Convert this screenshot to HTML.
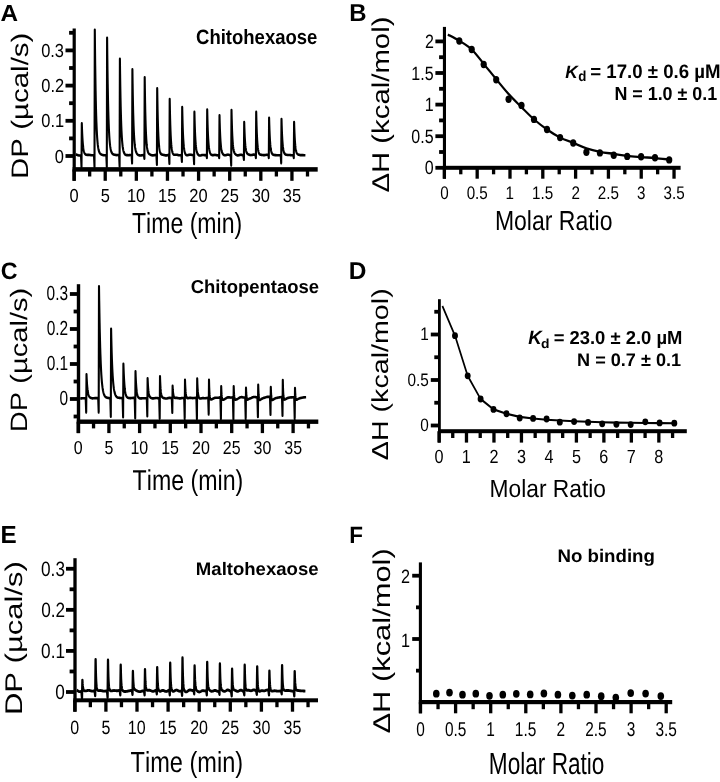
<!DOCTYPE html><html><head><meta charset="utf-8"><style>html,body{margin:0;padding:0;background:#fff;}svg{display:block;will-change:transform;}text{font-kerning:none;}</style></head><body>
<svg width="720" height="782" viewBox="0 0 720 782" font-family="'Liberation Sans', sans-serif" text-rendering="geometricPrecision">
<rect width="720" height="782" fill="#fff"/>
<g fill="#000">
<text transform="translate(0.49,21.00) scale(1.0382,1)" font-size="23.40" font-weight="bold" font-style="normal">A</text>
<text transform="translate(349.20,20.80) scale(0.9804,1)" font-size="24.42" font-weight="bold" font-style="normal">B</text>
<text transform="translate(0.75,278.90) scale(0.9813,1)" font-size="23.69" font-weight="bold" font-style="normal">C</text>
<text transform="translate(348.66,279.20) scale(1.0076,1)" font-size="24.27" font-weight="bold" font-style="normal">D</text>
<text transform="translate(0.48,542.90) scale(0.9753,1)" font-size="24.86" font-weight="bold" font-style="normal">E</text>
<text transform="translate(349.30,542.50) scale(0.9514,1)" font-size="23.62" font-weight="bold" font-style="normal">F</text>
<rect x="72.60" y="28.50" width="3.20" height="152.30"/>
<rect x="72.60" y="167.15" width="245.10" height="4.50"/>
<rect x="65.50" y="154.10" width="8.70" height="3.80"/>
<rect x="65.50" y="118.90" width="8.70" height="3.80"/>
<rect x="65.50" y="83.70" width="8.70" height="3.80"/>
<rect x="65.50" y="48.50" width="8.70" height="3.80"/>
<rect x="69.10" y="136.50" width="5.10" height="3.80"/>
<rect x="69.10" y="101.30" width="5.10" height="3.80"/>
<rect x="69.10" y="66.10" width="5.10" height="3.80"/>
<rect x="69.10" y="30.90" width="5.10" height="3.80"/>
<rect x="72.45" y="169.40" width="3.30" height="11.40"/>
<rect x="103.57" y="169.40" width="3.30" height="11.40"/>
<rect x="134.69" y="169.40" width="3.30" height="11.40"/>
<rect x="165.81" y="169.40" width="3.30" height="11.40"/>
<rect x="196.93" y="169.40" width="3.30" height="11.40"/>
<rect x="228.05" y="169.40" width="3.30" height="11.40"/>
<rect x="259.17" y="169.40" width="3.30" height="11.40"/>
<rect x="290.29" y="169.40" width="3.30" height="11.40"/>
<rect x="88.01" y="169.40" width="3.30" height="7.10"/>
<rect x="119.13" y="169.40" width="3.30" height="7.10"/>
<rect x="150.25" y="169.40" width="3.30" height="7.10"/>
<rect x="181.37" y="169.40" width="3.30" height="7.10"/>
<rect x="212.49" y="169.40" width="3.30" height="7.10"/>
<rect x="243.61" y="169.40" width="3.30" height="7.10"/>
<rect x="274.73" y="169.40" width="3.30" height="7.10"/>
<rect x="305.85" y="169.40" width="3.30" height="7.10"/>
<text transform="translate(54.79,162.52) scale(0.8691,1)" font-size="18.93" font-weight="normal">0</text>
<text transform="translate(41.24,127.32) scale(0.8691,1)" font-size="18.93" font-weight="normal">0.1</text>
<text transform="translate(41.26,92.12) scale(0.8691,1)" font-size="18.93" font-weight="normal">0.2</text>
<text transform="translate(41.16,56.92) scale(0.8691,1)" font-size="18.93" font-weight="normal">0.3</text>
<text transform="translate(69.53,201.72) scale(0.8691,1)" font-size="18.93" font-weight="normal">0</text>
<text transform="translate(100.66,201.72) scale(0.8691,1)" font-size="18.93" font-weight="normal">5</text>
<text transform="translate(126.89,201.72) scale(0.8691,1)" font-size="18.93" font-weight="normal">10</text>
<text transform="translate(158.03,201.72) scale(0.8691,1)" font-size="18.93" font-weight="normal">15</text>
<text transform="translate(189.34,201.72) scale(0.8691,1)" font-size="18.93" font-weight="normal">20</text>
<text transform="translate(220.48,201.72) scale(0.8691,1)" font-size="18.93" font-weight="normal">25</text>
<text transform="translate(251.68,201.72) scale(0.8691,1)" font-size="18.93" font-weight="normal">30</text>
<text transform="translate(282.82,201.72) scale(0.8691,1)" font-size="18.93" font-weight="normal">35</text>
<text transform="translate(131.98,233.30) scale(0.7939,1)" font-size="29.07" font-weight="normal" font-style="normal">Time (min)</text>
<text transform="translate(196.04,43.70) scale(0.8943,1)" font-size="20.70" font-weight="bold" font-style="normal">Chitohexaose</text>
<text transform="translate(28.30,178.92) rotate(-90) scale(1.2364,1)" font-size="23.84" font-weight="normal" font-style="normal">DP (µcal/s)</text>
<path transform="scale(1,1.25)" d="M75.80,123.680 L76.30,123.729 L76.80,123.824 L77.30,123.951 L77.80,124.091 L78.30,124.224 L78.80,124.329 L79.30,124.394 L79.80,124.415 L80.30,124.394 L80.80,124.343 L81.00,124.317 L81.50,133.600 L81.80,98.720 L82.00,103.317 L82.20,107.079 L82.40,110.158 L82.60,112.679 L82.80,114.744 L83.00,116.436 L83.20,117.823 L83.40,118.961 L83.60,119.895 L83.80,120.662 L84.00,121.291 L84.20,121.808 L84.40,122.232 L84.60,122.579 L84.80,122.863 L85.00,123.093 L85.20,123.280 L85.40,123.430 L85.60,123.549 L85.80,123.642 L86.00,123.715 L86.20,123.769 L86.40,123.808 L86.60,123.836 L86.80,123.855 L87.00,123.866 L87.20,123.871 L87.70,123.943 L88.20,123.915 L88.70,123.909 L89.20,123.929 L89.70,123.970 L90.20,124.026 L90.70,124.086 L91.20,124.139 L91.70,124.177 L92.20,124.194 L92.70,124.189 L93.20,124.166 L93.70,124.132 L94.00,124.110 L94.50,133.600 L94.80,23.840 L95.00,39.216 L95.20,52.232 L95.40,63.250 L95.60,72.578 L95.80,80.475 L96.00,87.161 L96.20,92.822 L96.40,97.614 L96.60,101.672 L96.80,105.108 L97.00,108.016 L97.20,110.478 L97.40,112.561 L97.60,114.324 L97.80,115.815 L98.00,117.076 L98.20,118.142 L98.40,119.042 L98.60,119.803 L98.80,120.445 L99.00,120.986 L99.20,121.444 L99.40,121.830 L99.60,122.156 L99.80,122.432 L100.00,122.666 L100.20,122.866 L100.40,123.036 L100.60,123.183 L100.80,123.309 L101.00,123.420 L101.20,123.517 L101.40,123.603 L101.60,123.681 L101.80,123.750 L102.00,123.813 L102.20,123.871 L102.40,123.923 L102.60,123.971 L102.80,124.014 L103.00,124.053 L103.50,124.202 L104.00,124.228 L104.50,124.235 L105.00,124.222 L105.50,124.193 L106.00,124.156 L106.30,124.133 L106.80,133.600 L107.10,30.160 L107.30,44.571 L107.50,56.771 L107.70,67.100 L107.90,75.845 L108.10,83.250 L108.30,89.520 L108.50,94.831 L108.70,99.328 L108.90,103.138 L109.10,106.364 L109.30,109.097 L109.50,111.411 L109.70,113.371 L109.90,115.030 L110.10,116.433 L110.30,117.620 L110.50,118.623 L110.70,119.470 L110.90,120.185 L111.10,120.786 L111.30,121.292 L111.50,121.717 L111.70,122.074 L111.90,122.372 L112.10,122.622 L112.30,122.830 L112.50,123.004 L112.70,123.150 L112.90,123.271 L113.10,123.373 L113.30,123.460 L113.50,123.533 L113.70,123.596 L113.90,123.650 L114.10,123.698 L114.30,123.741 L114.50,123.779 L114.70,123.814 L114.90,123.847 L115.10,123.876 L115.60,124.020 L116.10,124.043 L116.60,124.058 L117.10,124.060 L117.60,124.048 L118.10,124.022 L118.60,123.987 L119.10,123.951 L119.10,123.951 L119.60,133.200 L119.90,46.960 L120.10,59.241 L120.30,69.563 L120.50,78.242 L120.70,85.539 L120.90,91.676 L121.10,96.838 L121.30,101.183 L121.50,104.839 L121.70,107.918 L121.90,110.512 L122.10,112.698 L122.30,114.540 L122.50,116.094 L122.70,117.406 L122.90,118.512 L123.10,119.446 L123.30,120.234 L123.50,120.899 L123.70,121.460 L123.90,121.933 L124.10,122.331 L124.30,122.665 L124.50,122.945 L124.70,123.179 L124.90,123.374 L125.10,123.536 L125.30,123.669 L125.50,123.777 L125.70,123.866 L125.90,123.936 L126.10,123.992 L126.30,124.036 L126.50,124.069 L126.70,124.093 L126.90,124.110 L127.10,124.121 L127.30,124.128 L127.50,124.130 L128.00,124.192 L128.50,124.151 L129.00,124.113 L129.50,124.076 L130.00,124.039 L130.50,124.001 L131.00,123.959 L131.50,123.915 L131.60,123.906 L132.10,130.640 L132.40,55.520 L132.60,66.861 L132.80,76.313 L133.00,84.193 L133.20,90.762 L133.40,96.238 L133.60,100.805 L133.80,104.613 L134.00,107.790 L134.20,110.441 L134.40,112.654 L134.60,114.504 L134.80,116.050 L135.00,117.345 L135.20,118.430 L135.40,119.341 L135.60,120.108 L135.80,120.755 L136.00,121.301 L136.20,121.765 L136.40,122.160 L136.60,122.496 L136.80,122.785 L137.00,123.033 L137.20,123.246 L137.40,123.431 L137.60,123.590 L137.80,123.728 L138.00,123.847 L138.20,123.949 L138.40,124.037 L138.60,124.111 L138.80,124.173 L139.00,124.224 L139.20,124.264 L139.40,124.296 L139.90,124.412 L140.40,124.383 L140.90,124.334 L141.40,124.272 L141.90,124.209 L142.40,124.153 L142.90,124.112 L143.40,124.088 L143.90,124.081 L144.40,126.960 L144.70,61.840 L144.90,73.127 L145.10,82.369 L145.30,89.934 L145.50,96.126 L145.70,101.193 L145.90,105.339 L146.10,108.729 L146.30,111.500 L146.50,113.764 L146.70,115.613 L146.90,117.121 L147.10,118.350 L147.30,119.351 L147.50,120.166 L147.70,120.829 L147.90,121.368 L148.10,121.807 L148.30,122.165 L148.50,122.458 L148.70,122.699 L148.90,122.899 L149.10,123.066 L149.30,123.207 L149.50,123.329 L149.70,123.435 L149.90,123.531 L150.10,123.617 L150.30,123.696 L150.50,123.770 L150.70,123.840 L150.90,123.905 L151.10,123.966 L151.60,124.163 L152.10,124.239 L152.60,124.283 L153.10,124.287 L153.60,124.249 L154.10,124.176 L154.60,124.083 L155.10,123.989 L155.60,123.913 L156.10,123.871 L156.40,123.866 L156.90,131.760 L157.20,70.560 L157.40,80.721 L157.60,88.965 L157.80,95.652 L158.00,101.079 L158.20,105.484 L158.40,109.059 L158.60,111.960 L158.80,114.313 L159.00,116.222 L159.20,117.767 L159.40,119.017 L159.60,120.026 L159.80,120.838 L160.00,121.489 L160.20,122.008 L160.40,122.420 L160.60,122.744 L160.80,122.997 L161.00,123.194 L161.20,123.344 L161.40,123.458 L161.60,123.544 L161.80,123.608 L162.00,123.657 L162.20,123.695 L162.40,123.726 L162.60,123.753 L162.80,123.780 L163.00,123.807 L163.50,123.955 L164.00,124.025 L164.50,124.120 L165.00,124.218 L165.50,124.297 L166.00,124.337 L166.50,124.326 L167.00,124.264 L167.50,124.161 L168.00,124.036 L168.50,123.916 L168.90,123.840 L169.40,130.960 L169.70,79.280 L169.90,87.736 L170.10,94.598 L170.30,100.169 L170.50,104.695 L170.70,108.375 L170.90,111.369 L171.10,113.807 L171.30,115.793 L171.50,117.412 L171.70,118.732 L171.90,119.807 L172.10,120.682 L172.30,121.393 L172.50,121.968 L172.70,122.430 L172.90,122.799 L173.10,123.090 L173.30,123.317 L173.50,123.490 L173.70,123.618 L173.90,123.709 L174.10,123.770 L174.30,123.807 L174.50,123.824 L174.70,123.828 L174.90,123.821 L175.10,123.807 L175.30,123.791 L175.50,123.774 L176.00,123.802 L176.50,123.783 L177.00,123.819 L177.50,123.900 L178.00,124.006 L178.50,124.114 L179.00,124.199 L179.50,124.244 L180.00,124.240 L180.50,124.192 L181.00,124.115 L181.40,124.048 L181.90,129.360 L182.20,85.600 L182.40,92.871 L182.60,98.767 L182.80,103.552 L183.00,107.439 L183.20,110.598 L183.40,113.171 L183.60,115.267 L183.80,116.979 L184.00,118.379 L184.20,119.526 L184.40,120.466 L184.60,121.237 L184.80,121.870 L185.00,122.389 L185.20,122.813 L185.40,123.157 L185.60,123.434 L185.80,123.655 L186.00,123.827 L186.20,123.958 L186.40,124.053 L186.60,124.117 L186.80,124.156 L187.00,124.172 L187.20,124.170 L187.40,124.153 L187.60,124.124 L187.80,124.087 L188.30,124.036 L188.80,123.897 L189.30,123.797 L189.80,123.747 L190.30,123.747 L190.80,123.786 L191.30,123.847 L191.80,123.908 L192.30,123.952 L192.80,123.966 L193.30,123.949 L193.60,123.927 L194.10,131.200 L194.40,89.520 L194.60,96.023 L194.80,101.291 L195.00,105.561 L195.20,109.026 L195.40,111.838 L195.60,114.125 L195.80,115.988 L196.00,117.508 L196.20,118.752 L196.40,119.773 L196.60,120.613 L196.80,121.308 L197.00,121.884 L197.20,122.363 L197.40,122.764 L197.60,123.098 L197.80,123.377 L198.00,123.610 L198.20,123.804 L198.40,123.963 L198.60,124.092 L198.80,124.194 L199.00,124.273 L199.20,124.331 L199.40,124.370 L199.60,124.392 L199.80,124.400 L200.30,124.438 L200.80,124.332 L201.30,124.219 L201.80,124.120 L202.30,124.052 L202.80,124.019 L203.30,124.020 L203.80,124.043 L204.30,124.073 L204.80,124.092 L205.30,124.087 L205.80,124.053 L206.30,123.992 L206.40,123.978 L206.90,126.400 L207.20,87.680 L207.40,94.522 L207.60,100.062 L207.80,104.551 L208.00,108.190 L208.20,111.142 L208.40,113.539 L208.60,115.489 L208.80,117.076 L209.00,118.372 L209.20,119.432 L209.40,120.302 L209.60,121.017 L209.80,121.607 L210.00,122.095 L210.20,122.500 L210.40,122.835 L210.60,123.113 L210.80,123.343 L211.00,123.532 L211.20,123.686 L211.40,123.810 L211.60,123.907 L211.80,123.981 L212.00,124.036 L212.20,124.073 L212.40,124.094 L212.60,124.103 L212.80,124.101 L213.30,124.123 L213.80,124.040 L214.30,123.973 L214.80,123.940 L215.30,123.949 L215.80,123.998 L216.30,124.078 L216.80,124.169 L217.30,124.250 L217.80,124.302 L218.30,124.313 L218.70,124.289 L219.20,126.400 L219.50,92.320 L219.70,98.331 L219.90,103.193 L220.10,107.125 L220.30,110.306 L220.50,112.880 L220.70,114.965 L220.90,116.655 L221.10,118.028 L221.30,119.144 L221.50,120.055 L221.70,120.801 L221.90,121.414 L222.10,121.920 L222.30,122.340 L222.50,122.690 L222.70,122.982 L222.90,123.228 L223.10,123.434 L223.30,123.607 L223.50,123.751 L223.70,123.870 L223.90,123.966 L224.10,124.041 L224.30,124.097 L224.50,124.136 L224.70,124.159 L224.90,124.168 L225.40,124.201 L225.90,124.088 L226.40,123.960 L226.90,123.845 L227.40,123.766 L227.90,123.741 L228.40,123.776 L228.90,123.866 L229.40,123.991 L229.90,124.126 L230.40,124.244 L230.70,124.296 L231.20,132.400 L231.50,88.000 L231.70,94.885 L231.90,100.452 L232.10,104.950 L232.30,108.582 L232.50,111.513 L232.70,113.876 L232.90,115.780 L233.10,117.314 L233.30,118.549 L233.50,119.545 L233.70,120.349 L233.90,121.000 L234.10,121.529 L234.30,121.961 L234.50,122.317 L234.70,122.613 L234.90,122.862 L235.10,123.074 L235.30,123.257 L235.50,123.416 L235.70,123.557 L235.90,123.681 L236.10,123.791 L236.30,123.889 L236.50,123.974 L236.70,124.047 L236.90,124.109 L237.10,124.159 L237.60,124.292 L238.10,124.269 L238.60,124.195 L239.10,124.086 L239.60,123.966 L240.10,123.863 L240.60,123.803 L241.10,123.803 L241.60,123.866 L242.10,123.984 L242.60,124.136 L243.10,124.293 L243.40,124.378 L243.90,127.760 L244.20,97.600 L244.40,102.720 L244.60,106.859 L244.80,110.201 L245.00,112.896 L245.20,115.066 L245.40,116.809 L245.60,118.206 L245.80,119.323 L246.00,120.214 L246.20,120.922 L246.40,121.485 L246.60,121.930 L246.80,122.283 L247.00,122.563 L247.20,122.786 L247.40,122.965 L247.60,123.111 L247.80,123.231 L248.00,123.333 L248.20,123.422 L248.40,123.500 L248.60,123.572 L248.80,123.638 L249.00,123.699 L249.20,123.757 L249.40,123.811 L249.90,123.991 L250.40,124.042 L250.90,124.058 L251.40,124.033 L251.90,123.970 L252.40,123.885 L252.90,123.798 L253.40,123.732 L253.90,123.708 L254.40,123.738 L254.90,123.825 L255.40,123.959 L255.90,126.400 L256.20,89.520 L256.40,96.170 L256.60,101.569 L256.80,105.950 L257.00,109.503 L257.20,112.384 L257.40,114.717 L257.60,116.605 L257.80,118.129 L258.00,119.358 L258.20,120.345 L258.40,121.135 L258.60,121.765 L258.80,122.263 L259.00,122.656 L259.20,122.963 L259.40,123.200 L259.60,123.382 L259.80,123.520 L260.00,123.624 L260.20,123.701 L260.40,123.758 L260.60,123.801 L260.80,123.833 L261.00,123.858 L261.20,123.879 L261.40,123.898 L261.60,123.915 L262.10,124.030 L262.60,124.048 L263.10,124.074 L263.60,124.093 L264.10,124.093 L264.60,124.067 L265.10,124.016 L265.60,123.947 L266.10,123.873 L266.60,123.808 L267.10,123.766 L267.60,123.756 L268.10,123.782 L268.30,123.802 L268.80,126.400 L269.10,94.160 L269.30,99.845 L269.50,104.459 L269.70,108.204 L269.90,111.245 L270.10,113.712 L270.30,115.715 L270.50,117.341 L270.70,118.659 L270.90,119.727 L271.10,120.591 L271.30,121.290 L271.50,121.853 L271.70,122.306 L271.90,122.669 L272.10,122.959 L272.30,123.189 L272.50,123.371 L272.70,123.515 L272.90,123.627 L273.10,123.714 L273.30,123.782 L273.50,123.834 L273.70,123.875 L273.90,123.907 L274.10,123.933 L274.30,123.955 L274.50,123.974 L275.00,124.075 L275.50,124.091 L276.00,124.119 L276.50,124.153 L277.00,124.186 L277.50,124.210 L278.00,124.223 L278.50,124.222 L279.00,124.208 L279.50,124.184 L280.00,124.153 L280.50,124.121 L280.70,124.109 L281.20,130.560 L281.50,95.280 L281.70,100.736 L281.90,105.155 L282.10,108.734 L282.30,111.634 L282.50,113.982 L282.70,115.885 L282.90,117.426 L283.10,118.674 L283.30,119.685 L283.50,120.504 L283.70,121.167 L283.90,121.704 L284.10,122.139 L284.30,122.491 L284.50,122.776 L284.70,123.006 L284.90,123.193 L285.10,123.343 L285.30,123.464 L285.50,123.562 L285.70,123.641 L285.90,123.704 L286.10,123.755 L286.30,123.795 L286.50,123.828 L286.70,123.854 L286.90,123.875 L287.40,123.970 L287.90,123.971 L288.40,123.977 L288.90,123.989 L289.40,124.010 L289.90,124.037 L290.40,124.072 L290.90,124.112 L291.40,124.153 L291.90,124.192 L292.40,124.224 L292.90,124.243 L293.30,124.248 L293.80,126.400 L294.10,97.600 L294.30,102.644 L294.50,106.725 L294.70,110.027 L294.90,112.697 L295.10,114.856 L295.30,116.600 L295.50,118.010 L295.70,119.147 L295.90,120.066 L296.10,120.807 L296.30,121.405 L296.50,121.888 L296.70,122.278 L296.90,122.593 L297.10,122.849 L297.30,123.056 L297.50,123.226 L297.70,123.365 L297.90,123.479 L298.10,123.574 L298.30,123.654 L298.50,123.721 L298.70,123.779 L298.90,123.828 L299.10,123.871 L299.30,123.908 L299.80,124.048 L300.30,124.074 L300.80,124.095 L301.30,124.110 L301.80,124.119 L302.30,124.126 L302.80,124.134 L303.30,124.145 L303.80,124.160 L304.30,124.178 L304.80,124.196 L305.30,124.210 L305.40,124.212" fill="none" stroke="#000" stroke-width="2.1" stroke-linejoin="round"/>
<rect x="442.90" y="26.90" width="3.10" height="151.80"/>
<rect x="442.90" y="165.80" width="237.70" height="4.00"/>
<rect x="435.40" y="165.90" width="9.05" height="3.80"/>
<rect x="435.40" y="134.30" width="9.05" height="3.80"/>
<rect x="435.40" y="102.70" width="9.05" height="3.80"/>
<rect x="435.40" y="71.10" width="9.05" height="3.80"/>
<rect x="435.40" y="39.50" width="9.05" height="3.80"/>
<rect x="439.10" y="150.10" width="5.35" height="3.80"/>
<rect x="439.10" y="118.50" width="5.35" height="3.80"/>
<rect x="439.10" y="86.90" width="5.35" height="3.80"/>
<rect x="439.10" y="55.30" width="5.35" height="3.80"/>
<rect x="442.72" y="167.80" width="3.30" height="10.90"/>
<rect x="475.53" y="167.80" width="3.30" height="10.90"/>
<rect x="508.34" y="167.80" width="3.30" height="10.90"/>
<rect x="541.15" y="167.80" width="3.30" height="10.90"/>
<rect x="573.96" y="167.80" width="3.30" height="10.90"/>
<rect x="606.77" y="167.80" width="3.30" height="10.90"/>
<rect x="639.58" y="167.80" width="3.30" height="10.90"/>
<rect x="672.39" y="167.80" width="3.30" height="10.90"/>
<rect x="459.12" y="167.80" width="3.30" height="6.50"/>
<rect x="491.94" y="167.80" width="3.30" height="6.50"/>
<rect x="524.75" y="167.80" width="3.30" height="6.50"/>
<rect x="557.56" y="167.80" width="3.30" height="6.50"/>
<rect x="590.37" y="167.80" width="3.30" height="6.50"/>
<rect x="623.18" y="167.80" width="3.30" height="6.50"/>
<rect x="655.99" y="167.80" width="3.30" height="6.50"/>
<text transform="translate(424.70,174.41) scale(0.8351,1)" font-size="19.21" font-weight="normal">0</text>
<text transform="translate(411.37,142.81) scale(0.8351,1)" font-size="19.21" font-weight="normal">0.5</text>
<text transform="translate(424.86,111.21) scale(0.8351,1)" font-size="19.21" font-weight="normal">1</text>
<text transform="translate(411.37,79.61) scale(0.8351,1)" font-size="19.21" font-weight="normal">1.5</text>
<text transform="translate(424.89,48.01) scale(0.8351,1)" font-size="19.21" font-weight="normal">2</text>
<text transform="translate(440.14,199.32) scale(0.8351,1)" font-size="18.22" font-weight="normal">0</text>
<text transform="translate(466.63,199.32) scale(0.8351,1)" font-size="18.22" font-weight="normal">0.5</text>
<text transform="translate(505.55,199.32) scale(0.8351,1)" font-size="18.22" font-weight="normal">1</text>
<text transform="translate(531.96,199.32) scale(0.8351,1)" font-size="18.22" font-weight="normal">1.5</text>
<text transform="translate(571.38,199.32) scale(0.8351,1)" font-size="18.22" font-weight="normal">2</text>
<text transform="translate(597.78,199.32) scale(0.8351,1)" font-size="18.22" font-weight="normal">2.5</text>
<text transform="translate(637.04,199.32) scale(0.8351,1)" font-size="18.22" font-weight="normal">3</text>
<text transform="translate(663.49,199.32) scale(0.8351,1)" font-size="18.22" font-weight="normal">3.5</text>
<text transform="translate(494.91,230.40) scale(0.8369,1)" font-size="27.47" font-weight="normal" font-style="normal">Molar Ratio</text>
<text transform="translate(388.80,192.57) rotate(-90) scale(1.2088,1)" font-size="24.27" font-weight="normal" font-style="normal">ΔH (kcal/mol)</text>
<path transform="scale(1,1.25)" d="M447.80,27.680 C449.72,28.507 455.32,30.653 459.30,32.640 C463.28,34.627 467.63,36.533 471.70,39.600 C475.77,42.667 479.62,47.080 483.70,51.040 C487.78,55.000 492.05,59.333 496.20,63.360 C500.35,67.387 504.38,71.467 508.60,75.200 C512.82,78.933 517.27,82.373 521.50,85.760 C525.73,89.147 529.72,92.533 534.00,95.520 C538.28,98.507 542.87,101.267 547.20,103.680 C551.53,106.093 555.65,108.227 560.00,110.000 C564.35,111.773 568.88,112.880 573.30,114.320 C577.72,115.760 582.05,117.453 586.50,118.640 C590.95,119.827 595.46,120.693 600.00,121.440 C604.54,122.187 609.22,122.573 613.75,123.120 C618.28,123.667 622.64,124.293 627.20,124.720 C631.76,125.147 636.47,125.387 641.10,125.680 C645.73,125.973 650.32,126.160 655.00,126.480 C659.68,126.800 666.83,127.413 669.20,127.600" fill="none" stroke="#000" stroke-width="1.9"/>
<ellipse cx="459.30" cy="41.00" rx="3.1" ry="3.7"/>
<ellipse cx="471.70" cy="49.50" rx="3.1" ry="3.7"/>
<ellipse cx="483.70" cy="64.50" rx="3.1" ry="3.7"/>
<ellipse cx="496.20" cy="79.70" rx="3.1" ry="3.7"/>
<ellipse cx="508.60" cy="99.30" rx="3.1" ry="3.7"/>
<ellipse cx="521.50" cy="105.40" rx="3.1" ry="3.7"/>
<ellipse cx="534.00" cy="119.40" rx="3.1" ry="3.7"/>
<ellipse cx="547.00" cy="129.50" rx="3.1" ry="3.7"/>
<ellipse cx="560.10" cy="137.60" rx="3.1" ry="3.7"/>
<ellipse cx="573.20" cy="143.00" rx="3.1" ry="3.7"/>
<ellipse cx="586.40" cy="152.30" rx="3.1" ry="3.7"/>
<ellipse cx="599.90" cy="152.90" rx="3.1" ry="3.7"/>
<ellipse cx="613.75" cy="155.30" rx="3.1" ry="3.7"/>
<ellipse cx="627.20" cy="156.40" rx="3.1" ry="3.7"/>
<ellipse cx="641.10" cy="156.80" rx="3.1" ry="3.7"/>
<ellipse cx="655.00" cy="157.80" rx="3.1" ry="3.7"/>
<ellipse cx="669.20" cy="159.90" rx="3.1" ry="3.7"/>
<text transform="translate(565.29,77.90) scale(0.9802,1)" font-size="17.73" font-weight="bold" font-style="italic">K</text>
<text transform="translate(578.35,81.00) scale(0.9264,1)" font-size="14.35" font-weight="bold" font-style="normal">d</text>
<text transform="translate(590.23,77.80) scale(0.9580,1)" font-size="19.48" font-weight="bold" font-style="normal">= 17.0 ± 0.6 µM</text>
<text transform="translate(614.40,99.60) scale(0.9540,1)" font-size="18.75" font-weight="bold" font-style="normal">N = 1.0 ± 0.1</text>
<rect x="76.80" y="284.20" width="3.40" height="148.90"/>
<rect x="76.80" y="419.50" width="241.50" height="4.40"/>
<rect x="69.90" y="397.10" width="8.60" height="3.80"/>
<rect x="69.90" y="362.10" width="8.60" height="3.80"/>
<rect x="69.90" y="327.10" width="8.60" height="3.80"/>
<rect x="69.90" y="292.10" width="8.60" height="3.80"/>
<rect x="73.60" y="414.60" width="4.90" height="3.80"/>
<rect x="73.60" y="379.60" width="4.90" height="3.80"/>
<rect x="73.60" y="344.60" width="4.90" height="3.80"/>
<rect x="73.60" y="309.60" width="4.90" height="3.80"/>
<rect x="76.55" y="421.70" width="3.30" height="11.40"/>
<rect x="107.25" y="421.70" width="3.30" height="11.40"/>
<rect x="137.95" y="421.70" width="3.30" height="11.40"/>
<rect x="168.65" y="421.70" width="3.30" height="11.40"/>
<rect x="199.35" y="421.70" width="3.30" height="11.40"/>
<rect x="230.05" y="421.70" width="3.30" height="11.40"/>
<rect x="260.75" y="421.70" width="3.30" height="11.40"/>
<rect x="291.45" y="421.70" width="3.30" height="11.40"/>
<rect x="91.90" y="421.70" width="3.30" height="6.70"/>
<rect x="122.60" y="421.70" width="3.30" height="6.70"/>
<rect x="153.30" y="421.70" width="3.30" height="6.70"/>
<rect x="184.00" y="421.70" width="3.30" height="6.70"/>
<rect x="214.70" y="421.70" width="3.30" height="6.70"/>
<rect x="245.40" y="421.70" width="3.30" height="6.70"/>
<rect x="276.10" y="421.70" width="3.30" height="6.70"/>
<rect x="306.80" y="421.70" width="3.30" height="6.70"/>
<text transform="translate(59.41,405.00) scale(0.7598,1)" font-size="20.34" font-weight="normal">0</text>
<text transform="translate(46.67,370.00) scale(0.7598,1)" font-size="20.34" font-weight="normal">0.1</text>
<text transform="translate(46.69,335.00) scale(0.7598,1)" font-size="20.34" font-weight="normal">0.2</text>
<text transform="translate(46.60,300.00) scale(0.7598,1)" font-size="20.34" font-weight="normal">0.3</text>
<text transform="translate(73.75,454.12) scale(0.8510,1)" font-size="18.79" font-weight="normal">0</text>
<text transform="translate(104.47,454.12) scale(0.8510,1)" font-size="18.79" font-weight="normal">5</text>
<text transform="translate(130.41,454.12) scale(0.8510,1)" font-size="18.79" font-weight="normal">10</text>
<text transform="translate(161.14,454.12) scale(0.8510,1)" font-size="18.79" font-weight="normal">15</text>
<text transform="translate(192.02,454.12) scale(0.8510,1)" font-size="18.79" font-weight="normal">20</text>
<text transform="translate(222.74,454.12) scale(0.8510,1)" font-size="18.79" font-weight="normal">25</text>
<text transform="translate(253.52,454.12) scale(0.8510,1)" font-size="18.79" font-weight="normal">30</text>
<text transform="translate(284.24,454.12) scale(0.8510,1)" font-size="18.79" font-weight="normal">35</text>
<text transform="translate(132.58,490.20) scale(0.8056,1)" font-size="28.78" font-weight="normal" font-style="normal">Time (min)</text>
<text transform="translate(190.74,292.90) scale(0.9923,1)" font-size="18.63" font-weight="bold" font-style="normal">Chitopentaose</text>
<text transform="translate(27.10,432.19) rotate(-90) scale(1.2274,1)" font-size="23.69" font-weight="normal" font-style="normal">DP (µcal/s)</text>
<path transform="scale(1,1.25)" d="M80.20,318.835 L80.70,318.796 L81.20,318.740 L81.70,318.681 L82.20,318.632 L82.70,318.599 L83.20,318.584 L83.70,318.585 L84.20,318.595 L84.70,318.603 L85.20,318.603 L85.70,318.590 L86.20,329.920 L86.50,299.440 L86.70,302.886 L86.90,305.703 L87.10,308.007 L87.30,309.890 L87.50,311.430 L87.70,312.690 L87.90,313.721 L88.10,314.566 L88.30,315.259 L88.50,315.828 L88.70,316.298 L88.90,316.685 L89.10,317.007 L89.30,317.275 L89.50,317.499 L89.70,317.687 L89.90,317.847 L90.10,317.982 L90.30,318.097 L90.50,318.195 L90.70,318.279 L90.90,318.350 L91.10,318.411 L91.30,318.462 L91.50,318.504 L91.70,318.538 L92.20,318.658 L92.70,318.654 L93.20,318.634 L93.70,318.605 L94.20,318.573 L94.70,318.545 L95.20,318.526 L95.70,318.517 L96.20,318.517 L96.70,318.521 L97.20,318.526 L97.70,318.528 L98.20,318.523 L98.70,329.920 L99.00,228.960 L99.20,240.131 L99.40,249.907 L99.60,258.462 L99.80,265.950 L100.00,272.503 L100.20,278.240 L100.40,283.261 L100.60,287.658 L100.80,291.509 L101.00,294.881 L101.20,297.836 L101.40,300.424 L101.60,302.693 L101.80,304.682 L102.00,306.426 L102.20,307.955 L102.40,309.297 L102.60,310.473 L102.80,311.504 L103.00,312.408 L103.20,313.200 L103.40,313.893 L103.60,314.500 L103.80,315.030 L104.00,315.493 L104.20,315.896 L104.40,316.246 L104.60,316.551 L104.80,316.814 L105.00,317.042 L105.20,317.238 L105.40,317.407 L105.60,317.552 L105.80,317.676 L106.00,317.783 L106.20,317.875 L106.40,317.954 L106.60,318.022 L106.80,318.081 L107.00,318.133 L107.20,318.180 L107.40,318.221 L107.60,318.259 L107.80,318.294 L108.00,318.326 L108.20,318.357 L108.40,318.385 L108.60,318.413 L108.80,318.438 L109.00,318.462 L109.50,318.596 L110.00,318.612 L110.30,318.617 L110.80,333.360 L111.10,263.040 L111.30,270.431 L111.50,276.834 L111.70,282.383 L111.90,287.190 L112.10,291.355 L112.30,294.964 L112.50,298.090 L112.70,300.798 L112.90,303.146 L113.10,305.180 L113.30,306.943 L113.50,308.472 L113.70,309.799 L113.90,310.950 L114.10,311.949 L114.30,312.817 L114.50,313.572 L114.70,314.228 L114.90,314.799 L115.10,315.296 L115.30,315.729 L115.50,316.106 L115.70,316.433 L115.90,316.718 L116.10,316.966 L116.30,317.180 L116.50,317.365 L116.70,317.525 L116.90,317.661 L117.10,317.778 L117.30,317.877 L117.50,317.961 L117.70,318.030 L117.90,318.088 L118.10,318.136 L118.30,318.174 L118.50,318.205 L118.70,318.230 L118.90,318.250 L119.10,318.266 L119.30,318.280 L119.50,318.291 L119.70,318.302 L120.20,318.412 L120.70,318.421 L121.20,318.449 L121.70,318.495 L122.20,318.554 L122.60,318.605 L123.10,333.760 L123.40,290.960 L123.60,295.593 L123.80,299.459 L124.00,302.683 L124.20,305.371 L124.40,307.612 L124.60,309.479 L124.80,311.035 L125.00,312.331 L125.20,313.409 L125.40,314.305 L125.60,315.050 L125.80,315.668 L126.00,316.180 L126.20,316.604 L126.40,316.954 L126.60,317.243 L126.80,317.481 L127.00,317.677 L127.20,317.837 L127.40,317.969 L127.60,318.075 L127.80,318.162 L128.00,318.232 L128.20,318.289 L128.40,318.333 L128.60,318.369 L128.80,318.397 L129.00,318.418 L129.20,318.433 L129.40,318.445 L129.90,318.532 L130.40,318.499 L130.90,318.464 L131.40,318.426 L131.90,318.387 L132.40,318.348 L132.90,318.313 L133.40,318.286 L133.90,318.271 L134.40,318.271 L134.70,318.280 L135.20,334.560 L135.50,297.120 L135.70,301.369 L135.90,304.779 L136.10,307.518 L136.30,309.718 L136.50,311.488 L136.70,312.912 L136.90,314.061 L137.10,314.987 L137.30,315.736 L137.50,316.342 L137.70,316.833 L137.90,317.231 L138.10,317.554 L138.30,317.816 L138.50,318.028 L138.70,318.199 L138.90,318.336 L139.10,318.446 L139.30,318.532 L139.50,318.598 L139.70,318.648 L139.90,318.685 L140.10,318.709 L140.30,318.724 L140.80,318.787 L141.30,318.736 L141.80,318.681 L142.30,318.631 L142.80,318.593 L143.30,318.570 L143.80,318.561 L144.30,318.564 L144.80,318.571 L145.30,318.576 L145.80,318.570 L146.30,318.550 L146.80,318.516 L147.30,333.040 L147.60,302.640 L147.80,306.116 L148.00,308.819 L148.20,310.922 L148.40,312.558 L148.60,313.832 L148.80,314.825 L149.00,315.601 L149.20,316.208 L149.40,316.686 L149.60,317.064 L149.80,317.365 L150.00,317.607 L150.20,317.803 L150.40,317.965 L150.60,318.099 L150.80,318.213 L151.00,318.309 L151.20,318.392 L151.40,318.464 L151.60,318.525 L152.10,318.696 L152.60,318.734 L153.10,318.737 L153.60,318.705 L154.10,318.642 L154.60,318.563 L155.10,318.482 L155.60,318.417 L156.10,318.381 L156.60,318.382 L157.10,318.420 L157.60,318.487 L158.10,318.570 L158.60,318.651 L159.10,318.713 L159.20,318.722 L159.70,334.880 L160.00,300.960 L160.20,305.368 L160.40,308.672 L160.60,311.147 L160.80,312.996 L161.00,314.377 L161.20,315.406 L161.40,316.170 L161.60,316.738 L161.80,317.158 L162.00,317.469 L162.20,317.699 L162.40,317.872 L162.60,318.002 L162.80,318.103 L163.00,318.183 L163.20,318.249 L163.40,318.307 L163.60,318.359 L164.10,318.528 L164.60,318.612 L165.10,318.694 L165.60,318.756 L166.10,318.782 L166.60,318.764 L167.10,318.702 L167.60,318.609 L168.10,318.501 L168.60,318.402 L169.10,318.331 L169.60,318.304 L170.10,318.326 L170.60,318.394 L171.10,318.492 L171.60,318.601 L171.80,318.643 L172.30,330.160 L172.60,308.720 L172.80,311.578 L173.00,313.622 L173.20,315.080 L173.40,316.115 L173.60,316.846 L173.80,317.357 L174.00,317.710 L174.20,317.949 L174.40,318.106 L174.60,318.205 L174.80,318.263 L175.00,318.293 L175.20,318.304 L175.40,318.305 L175.90,318.330 L176.40,318.305 L176.90,318.326 L177.40,318.389 L177.90,318.478 L178.40,318.572 L178.90,318.650 L179.40,318.696 L179.90,318.701 L180.40,318.667 L180.90,318.605 L181.40,318.532 L181.90,318.471 L182.40,318.439 L182.90,318.449 L183.40,318.503 L183.90,318.595 L184.20,318.660 L184.70,335.120 L185.00,303.760 L185.20,308.068 L185.40,311.160 L185.60,313.377 L185.80,314.964 L186.00,316.097 L186.20,316.902 L186.40,317.470 L186.60,317.864 L186.80,318.134 L187.00,318.311 L187.20,318.422 L187.40,318.484 L187.60,318.512 L187.80,318.515 L188.00,318.501 L188.50,318.471 L189.00,318.364 L189.50,318.295 L190.00,318.270 L190.50,318.285 L191.00,318.328 L191.50,318.382 L192.00,318.430 L192.50,318.458 L193.00,318.459 L193.50,318.436 L194.00,318.396 L194.50,318.357 L195.00,318.334 L195.50,318.342 L196.00,318.388 L196.40,318.453 L196.90,335.120 L197.20,302.880 L197.40,307.393 L197.60,310.643 L197.80,312.983 L198.00,314.670 L198.20,315.886 L198.40,316.764 L198.60,317.396 L198.80,317.850 L199.00,318.173 L199.20,318.401 L199.40,318.558 L199.60,318.663 L199.80,318.728 L200.00,318.763 L200.20,318.777 L200.70,318.795 L201.20,318.698 L201.70,318.610 L202.20,318.545 L202.70,318.511 L203.20,318.507 L203.70,318.524 L204.20,318.549 L204.70,318.568 L205.20,318.569 L205.70,318.545 L206.20,318.497 L206.70,318.433 L207.20,318.368 L207.70,318.316 L208.20,318.292 L208.70,331.520 L209.00,303.760 L209.20,309.749 L209.40,313.540 L209.60,315.931 L209.80,317.429 L210.00,318.355 L210.20,318.919 L210.40,319.250 L210.60,319.434 L210.80,319.525 L211.00,319.554 L211.20,319.545 L211.40,319.511 L211.90,319.388 L212.40,319.174 L212.90,318.954 L213.40,318.738 L213.90,318.541 L214.40,318.378 L214.90,318.261 L215.40,318.193 L215.90,318.170 L216.40,318.179 L216.90,318.203 L217.40,318.222 L217.90,318.220 L218.40,318.186 L218.90,318.119 L219.40,318.027 L219.90,317.925 L220.40,317.831 L220.90,335.120 L221.20,309.120 L221.40,313.337 L221.60,315.972 L221.80,317.606 L222.00,318.603 L222.20,319.196 L222.40,319.536 L222.60,319.715 L222.80,319.795 L223.00,319.813 L223.20,319.793 L223.40,319.750 L223.90,319.617 L224.40,319.394 L224.90,319.158 L225.40,318.908 L225.90,318.651 L226.40,318.403 L226.90,318.183 L227.40,318.011 L227.90,317.899 L228.40,317.851 L228.90,317.860 L229.40,317.908 L229.90,317.973 L230.40,318.029 L230.90,318.056 L231.40,318.040 L231.90,317.978 L232.40,317.880 L232.90,317.762 L233.40,335.360 L233.70,308.960 L233.90,313.276 L234.10,315.957 L234.30,317.606 L234.50,318.600 L234.70,319.181 L234.90,319.503 L235.10,319.664 L235.30,319.727 L235.50,319.731 L235.70,319.701 L235.90,319.652 L236.40,319.527 L236.90,319.334 L237.40,319.144 L237.90,318.941 L238.40,318.718 L238.90,318.481 L239.40,318.246 L239.90,318.035 L240.40,317.867 L240.90,317.758 L241.40,317.716 L241.90,317.735 L242.40,317.800 L242.90,317.888 L243.40,317.971 L243.90,318.024 L244.40,318.031 L244.90,317.984 L245.20,317.931 L245.70,335.120 L246.00,310.240 L246.20,314.172 L246.40,316.591 L246.60,318.054 L246.80,318.911 L247.00,319.385 L247.20,319.619 L247.40,319.705 L247.60,319.703 L247.80,319.650 L248.00,319.569 L248.20,319.476 L248.70,319.270 L249.20,319.046 L249.70,318.870 L250.20,318.718 L250.70,318.568 L251.20,318.408 L251.70,318.234 L252.20,318.052 L252.70,317.875 L253.20,317.723 L253.70,317.612 L254.20,317.554 L254.70,317.553 L255.20,317.604 L255.70,317.693 L256.20,317.800 L256.70,317.901 L257.20,317.976 L257.40,317.995 L257.90,333.600 L258.20,307.760 L258.40,312.717 L258.60,315.802 L258.80,317.697 L259.00,318.833 L259.20,319.483 L259.40,319.826 L259.60,319.976 L259.80,320.004 L260.00,319.959 L260.20,319.871 L260.40,319.760 L260.90,319.485 L261.40,319.172 L261.90,318.924 L262.40,318.730 L262.90,318.575 L263.40,318.442 L263.90,318.317 L264.40,318.189 L264.90,318.054 L265.40,317.914 L265.90,317.776 L266.40,317.650 L266.90,317.549 L267.40,317.480 L267.90,317.447 L268.40,317.450 L268.90,317.481 L269.40,317.530 L269.90,317.584 L270.00,317.594 L270.50,331.840 L270.80,309.600 L271.00,313.804 L271.20,316.420 L271.40,318.027 L271.60,318.990 L271.80,319.542 L272.00,319.833 L272.20,319.960 L272.40,319.984 L272.60,319.944 L272.80,319.866 L273.00,319.766 L273.50,319.512 L274.00,319.214 L274.50,318.964 L275.00,318.761 L275.50,318.598 L276.00,318.470 L276.50,318.366 L277.00,318.279 L277.50,318.200 L278.00,318.125 L278.50,318.049 L279.00,317.972 L279.50,317.895 L280.00,317.821 L280.50,317.751 L281.00,317.688 L281.50,317.634 L282.00,317.588 L282.50,332.640 L282.80,304.000 L283.00,310.144 L283.20,314.000 L283.40,316.402 L283.60,317.876 L283.80,318.757 L284.00,319.263 L284.20,319.531 L284.40,319.650 L284.60,319.676 L284.80,319.645 L285.00,319.580 L285.20,319.496 L285.70,319.281 L286.20,319.020 L286.70,318.794 L287.20,318.598 L287.70,318.431 L288.20,318.290 L288.70,318.173 L289.20,318.079 L289.70,318.006 L290.20,317.952 L290.70,317.914 L291.20,317.888 L291.70,317.869 L292.20,317.853 L292.70,317.835 L293.20,317.809 L293.70,317.775 L294.20,317.730 L294.70,335.120 L295.00,310.400 L295.20,314.212 L295.40,316.575 L295.60,318.019 L295.80,318.880 L296.00,319.369 L296.20,319.624 L296.40,319.732 L296.60,319.750 L296.80,319.714 L297.00,319.646 L297.20,319.560 L297.70,319.352 L298.20,319.110 L298.70,318.912 L299.20,318.748 L299.70,318.612 L300.20,318.496 L300.70,318.395 L301.20,318.304 L301.70,318.222 L302.20,318.140 L302.70,318.039 L303.20,317.961 L303.70,317.903 L304.20,317.860 L304.70,317.826 L305.20,317.798 L305.70,317.774 L306.10,317.760" fill="none" stroke="#000" stroke-width="2.1" stroke-linejoin="round"/>
<rect x="438.00" y="299.20" width="2.80" height="143.40"/>
<rect x="438.00" y="429.20" width="248.80" height="4.00"/>
<rect x="430.80" y="423.60" width="8.60" height="3.80"/>
<rect x="430.80" y="378.10" width="8.60" height="3.80"/>
<rect x="430.80" y="332.60" width="8.60" height="3.80"/>
<rect x="434.30" y="400.85" width="5.10" height="3.80"/>
<rect x="434.30" y="355.35" width="5.10" height="3.80"/>
<rect x="434.30" y="309.85" width="5.10" height="3.80"/>
<rect x="437.35" y="431.20" width="3.30" height="11.40"/>
<rect x="464.83" y="431.20" width="3.30" height="11.40"/>
<rect x="492.31" y="431.20" width="3.30" height="11.40"/>
<rect x="519.79" y="431.20" width="3.30" height="11.40"/>
<rect x="547.27" y="431.20" width="3.30" height="11.40"/>
<rect x="574.75" y="431.20" width="3.30" height="11.40"/>
<rect x="602.23" y="431.20" width="3.30" height="11.40"/>
<rect x="629.71" y="431.20" width="3.30" height="11.40"/>
<rect x="657.19" y="431.20" width="3.30" height="11.40"/>
<rect x="451.09" y="431.20" width="3.30" height="6.80"/>
<rect x="478.57" y="431.20" width="3.30" height="6.80"/>
<rect x="506.05" y="431.20" width="3.30" height="6.80"/>
<rect x="533.53" y="431.20" width="3.30" height="6.80"/>
<rect x="561.01" y="431.20" width="3.30" height="6.80"/>
<rect x="588.49" y="431.20" width="3.30" height="6.80"/>
<rect x="615.97" y="431.20" width="3.30" height="6.80"/>
<rect x="643.45" y="431.20" width="3.30" height="6.80"/>
<rect x="670.93" y="431.20" width="3.30" height="6.80"/>
<text transform="translate(420.16,431.22) scale(0.8493,1)" font-size="18.08" font-weight="normal">0</text>
<text transform="translate(407.40,385.72) scale(0.8493,1)" font-size="18.08" font-weight="normal">0.5</text>
<text transform="translate(420.31,340.22) scale(0.8493,1)" font-size="18.08" font-weight="normal">1</text>
<text transform="translate(434.50,463.11) scale(0.8493,1)" font-size="19.07" font-weight="normal">0</text>
<text transform="translate(461.76,463.11) scale(0.8493,1)" font-size="19.07" font-weight="normal">1</text>
<text transform="translate(489.46,463.11) scale(0.8493,1)" font-size="19.07" font-weight="normal">2</text>
<text transform="translate(516.98,463.11) scale(0.8493,1)" font-size="19.07" font-weight="normal">3</text>
<text transform="translate(544.47,463.11) scale(0.8493,1)" font-size="19.07" font-weight="normal">4</text>
<text transform="translate(571.91,463.11) scale(0.8493,1)" font-size="19.07" font-weight="normal">5</text>
<text transform="translate(599.32,463.11) scale(0.8493,1)" font-size="19.07" font-weight="normal">6</text>
<text transform="translate(626.85,463.11) scale(0.8493,1)" font-size="19.07" font-weight="normal">7</text>
<text transform="translate(654.34,463.11) scale(0.8493,1)" font-size="19.07" font-weight="normal">8</text>
<text transform="translate(489.53,496.70) scale(0.9162,1)" font-size="24.86" font-weight="normal" font-style="normal">Molar Ratio</text>
<text transform="translate(388.10,460.25) rotate(-90) scale(1.2396,1)" font-size="23.11" font-weight="normal" font-style="normal">ΔH (kcal/mol)</text>
<path transform="scale(1,1.25)" d="M442.40,244.800 L455.00,268.560 L467.70,300.640 L480.60,319.200 L493.50,327.520 L506.50,331.000 L519.70,333.520 L533.10,334.800 L546.60,335.760 L559.80,336.400 L574.10,336.960 L588.10,337.360 L602.20,337.760 L616.40,338.080 L630.70,338.240 L645.30,338.400 L659.60,338.480 L674.30,338.560" fill="none" stroke="#000" stroke-width="1.7" stroke-linejoin="round"/>
<ellipse cx="455.00" cy="335.70" rx="2.95" ry="3.4"/>
<ellipse cx="467.70" cy="375.80" rx="2.95" ry="3.4"/>
<ellipse cx="480.60" cy="399.00" rx="2.95" ry="3.4"/>
<ellipse cx="493.50" cy="409.40" rx="2.95" ry="3.4"/>
<ellipse cx="506.50" cy="413.75" rx="2.95" ry="3.4"/>
<ellipse cx="519.70" cy="418.00" rx="2.95" ry="3.4"/>
<ellipse cx="533.10" cy="418.40" rx="2.95" ry="3.4"/>
<ellipse cx="546.60" cy="419.00" rx="2.95" ry="3.4"/>
<ellipse cx="559.80" cy="422.20" rx="2.95" ry="3.4"/>
<ellipse cx="574.10" cy="421.60" rx="2.95" ry="3.4"/>
<ellipse cx="588.10" cy="422.40" rx="2.95" ry="3.4"/>
<ellipse cx="602.20" cy="423.80" rx="2.95" ry="3.4"/>
<ellipse cx="616.40" cy="424.30" rx="2.95" ry="3.4"/>
<ellipse cx="630.70" cy="424.60" rx="2.95" ry="3.4"/>
<ellipse cx="645.30" cy="421.80" rx="2.95" ry="3.4"/>
<ellipse cx="659.60" cy="422.90" rx="2.95" ry="3.4"/>
<ellipse cx="674.30" cy="423.20" rx="2.95" ry="3.4"/>
<text transform="translate(528.27,343.75) scale(0.9778,1)" font-size="19.11" font-weight="bold" font-style="italic">K</text>
<text transform="translate(540.93,347.70) scale(1.0596,1)" font-size="13.11" font-weight="bold" font-style="normal">d</text>
<text transform="translate(553.64,343.70) scale(0.9820,1)" font-size="18.75" font-weight="bold" font-style="normal">= 23.0 ± 2.0 µM</text>
<text transform="translate(577.09,366.00) scale(0.9962,1)" font-size="18.17" font-weight="bold" font-style="normal">N = 0.7 ± 0.1</text>
<rect x="73.35" y="558.20" width="3.30" height="153.50"/>
<rect x="73.35" y="698.30" width="244.65" height="4.00"/>
<rect x="66.00" y="690.10" width="9.00" height="3.80"/>
<rect x="66.00" y="649.02" width="9.00" height="3.80"/>
<rect x="66.00" y="607.94" width="9.00" height="3.80"/>
<rect x="66.00" y="566.86" width="9.00" height="3.80"/>
<rect x="69.60" y="669.56" width="5.40" height="3.80"/>
<rect x="69.60" y="628.48" width="5.40" height="3.80"/>
<rect x="69.60" y="587.40" width="5.40" height="3.80"/>
<rect x="73.15" y="700.30" width="3.30" height="11.40"/>
<rect x="104.25" y="700.30" width="3.30" height="11.40"/>
<rect x="135.35" y="700.30" width="3.30" height="11.40"/>
<rect x="166.45" y="700.30" width="3.30" height="11.40"/>
<rect x="197.55" y="700.30" width="3.30" height="11.40"/>
<rect x="228.65" y="700.30" width="3.30" height="11.40"/>
<rect x="259.75" y="700.30" width="3.30" height="11.40"/>
<rect x="290.85" y="700.30" width="3.30" height="11.40"/>
<rect x="88.70" y="700.30" width="3.30" height="6.90"/>
<rect x="119.80" y="700.30" width="3.30" height="6.90"/>
<rect x="150.90" y="700.30" width="3.30" height="6.90"/>
<rect x="182.00" y="700.30" width="3.30" height="6.90"/>
<rect x="213.10" y="700.30" width="3.30" height="6.90"/>
<rect x="244.20" y="700.30" width="3.30" height="6.90"/>
<rect x="275.30" y="700.30" width="3.30" height="6.90"/>
<rect x="306.40" y="700.30" width="3.30" height="6.90"/>
<text transform="translate(55.30,699.10) scale(0.8347,1)" font-size="20.62" font-weight="normal">0</text>
<text transform="translate(41.11,658.02) scale(0.8347,1)" font-size="20.62" font-weight="normal">0.1</text>
<text transform="translate(41.14,616.94) scale(0.8347,1)" font-size="20.62" font-weight="normal">0.2</text>
<text transform="translate(41.03,575.86) scale(0.8347,1)" font-size="20.62" font-weight="normal">0.3</text>
<text transform="translate(70.34,734.21) scale(0.8347,1)" font-size="19.21" font-weight="normal">0</text>
<text transform="translate(101.46,734.21) scale(0.8347,1)" font-size="19.21" font-weight="normal">5</text>
<text transform="translate(127.78,734.21) scale(0.8347,1)" font-size="19.21" font-weight="normal">10</text>
<text transform="translate(158.91,734.21) scale(0.8347,1)" font-size="19.21" font-weight="normal">15</text>
<text transform="translate(190.19,734.21) scale(0.8347,1)" font-size="19.21" font-weight="normal">20</text>
<text transform="translate(221.32,734.21) scale(0.8347,1)" font-size="19.21" font-weight="normal">25</text>
<text transform="translate(252.49,734.21) scale(0.8347,1)" font-size="19.21" font-weight="normal">30</text>
<text transform="translate(283.61,734.21) scale(0.8347,1)" font-size="19.21" font-weight="normal">35</text>
<text transform="translate(130.57,771.70) scale(0.8107,1)" font-size="29.07" font-weight="normal" font-style="normal">Time (min)</text>
<text transform="translate(195.86,574.60) scale(1.0261,1)" font-size="18.08" font-weight="bold" font-style="normal">Maltohexaose</text>
<text transform="translate(21.90,715.04) rotate(-90) scale(1.2843,1)" font-size="24.13" font-weight="normal" font-style="normal">DP (µcal/s)</text>
<path transform="scale(1,1.25)" d="M76.70,552.084 L77.20,552.328 L77.70,552.606 L78.20,552.877 L78.70,553.101 L79.20,553.250 L79.70,553.309 L80.20,553.282 L80.70,553.190 L81.20,553.059 L81.40,553.004 L82.00,558.400 L82.40,544.080 L82.60,546.917 L82.80,548.816 L83.00,550.088 L83.20,550.942 L83.40,551.518 L83.60,551.908 L83.80,552.174 L84.00,552.357 L84.20,552.483 L84.40,552.571 L84.60,552.631 L85.10,552.743 L85.60,552.718 L86.10,552.659 L86.60,552.572 L87.10,552.472 L87.60,552.381 L88.10,552.317 L88.60,552.297 L89.10,552.326 L89.60,552.401 L90.10,552.509 L90.60,552.629 L91.10,552.740 L91.60,552.822 L92.10,552.865 L92.60,552.864 L93.10,552.824 L93.60,552.759 L94.10,552.685 L94.60,552.617 L95.20,556.640 L95.60,527.520 L95.80,535.765 L96.00,541.294 L96.20,545.002 L96.40,547.491 L96.60,549.161 L96.80,550.283 L97.00,551.036 L97.20,551.542 L97.40,551.881 L97.60,552.107 L97.80,552.256 L98.00,552.354 L98.20,552.415 L98.40,552.451 L98.90,552.512 L99.40,552.476 L99.90,552.447 L100.40,552.437 L100.90,552.455 L101.40,552.506 L101.90,552.585 L102.40,552.683 L102.90,552.783 L103.40,552.870 L103.90,552.929 L104.40,552.950 L104.90,552.932 L105.40,552.880 L105.90,552.807 L106.40,552.730 L106.90,552.664 L107.00,552.654 L107.60,558.000 L108.00,528.000 L108.20,536.121 L108.40,541.570 L108.60,545.230 L108.80,547.690 L109.00,549.347 L109.20,550.464 L109.40,551.219 L109.60,551.730 L109.80,552.076 L110.00,552.310 L110.20,552.468 L110.40,552.572 L110.60,552.639 L110.80,552.679 L111.30,552.737 L111.80,552.679 L112.30,552.606 L112.80,552.531 L113.30,552.470 L113.80,552.434 L114.30,552.427 L114.80,552.449 L115.30,552.490 L115.80,552.539 L116.30,552.580 L116.80,552.601 L117.30,552.594 L117.80,552.557 L118.30,552.497 L118.80,552.424 L119.30,552.356 L119.70,552.316 L120.30,556.000 L120.70,531.920 L120.90,538.665 L121.10,543.200 L121.30,546.257 L121.50,548.324 L121.70,549.728 L121.90,550.690 L122.10,551.356 L122.30,551.823 L122.50,552.157 L122.70,552.402 L122.90,552.586 L123.10,552.727 L123.30,552.839 L123.80,553.074 L124.30,553.164 L124.80,553.214 L125.30,553.223 L125.80,553.196 L126.30,553.141 L126.80,553.066 L127.30,552.983 L127.80,552.897 L128.30,552.815 L128.80,552.737 L129.30,552.662 L129.80,552.589 L130.30,552.513 L130.80,552.432 L131.30,552.345 L131.80,552.254 L131.90,552.236 L132.50,555.600 L132.90,537.040 L133.10,541.966 L133.30,545.262 L133.50,547.467 L133.70,548.943 L133.90,549.932 L134.10,550.598 L134.30,551.049 L134.50,551.358 L134.70,551.575 L134.90,551.733 L135.10,551.854 L135.30,551.952 L135.50,552.038 L136.00,552.261 L136.50,552.436 L137.00,552.632 L137.50,552.831 L138.00,553.015 L138.50,553.165 L139.00,553.266 L139.50,553.311 L140.00,553.296 L140.50,553.229 L141.00,553.124 L141.50,552.999 L142.00,552.873 L142.50,552.767 L143.00,552.691 L143.50,552.651 L144.00,552.643 L144.60,556.000 L145.00,535.520 L145.20,541.178 L145.40,544.969 L145.60,547.506 L145.80,549.201 L146.00,550.328 L146.20,551.073 L146.40,551.561 L146.60,551.873 L146.80,552.068 L147.00,552.182 L147.20,552.241 L147.40,552.265 L147.60,552.265 L148.10,552.250 L148.60,552.169 L149.10,552.140 L149.60,552.175 L150.10,552.276 L150.60,552.432 L151.10,552.620 L151.60,552.806 L152.10,552.958 L152.60,553.047 L153.10,553.054 L153.60,552.978 L154.10,552.832 L154.60,552.647 L155.10,552.458 L155.60,552.306 L156.10,552.222 L156.20,552.215 L156.80,555.200 L157.20,533.920 L157.40,540.052 L157.60,544.192 L157.80,546.997 L158.00,548.904 L158.20,550.210 L158.40,551.109 L158.60,551.732 L158.80,552.166 L159.00,552.470 L159.20,552.680 L159.40,552.823 L159.60,552.915 L159.80,552.968 L160.30,553.016 L160.80,552.888 L161.30,552.715 L161.80,552.538 L162.30,552.400 L162.80,552.333 L163.30,552.356 L163.80,552.467 L164.30,552.641 L164.80,552.840 L165.30,553.019 L165.80,553.134 L166.30,553.154 L166.80,553.069 L167.30,552.891 L167.80,552.654 L168.30,552.405 L168.80,552.194 L169.20,552.083 L169.80,556.000 L170.20,530.320 L170.40,537.564 L170.60,542.456 L170.80,545.772 L171.00,548.031 L171.20,549.583 L171.40,550.658 L171.60,551.411 L171.80,551.944 L172.00,552.325 L172.20,552.598 L172.40,552.793 L172.60,552.928 L172.80,553.016 L173.00,553.066 L173.50,553.090 L174.00,552.929 L174.50,552.698 L175.00,552.446 L175.50,552.226 L176.00,552.083 L176.50,552.046 L177.00,552.118 L177.50,552.279 L178.00,552.493 L178.50,552.708 L179.00,552.878 L179.50,552.967 L180.00,552.960 L180.50,552.864 L181.00,552.710 L181.50,552.543 L182.10,556.400 L182.50,526.160 L182.70,534.801 L182.90,540.611 L183.10,544.530 L183.30,547.186 L183.50,548.999 L183.70,550.251 L183.90,551.128 L184.10,551.754 L184.30,552.212 L184.50,552.554 L184.70,552.817 L184.90,553.021 L185.10,553.181 L185.30,553.306 L185.80,553.523 L186.30,553.523 L186.80,553.397 L187.30,553.164 L187.80,552.865 L188.30,552.551 L188.80,552.274 L189.30,552.074 L189.80,551.974 L190.30,551.974 L190.80,552.052 L191.30,552.174 L191.80,552.296 L192.30,552.383 L192.80,552.412 L193.30,552.378 L193.60,552.333 L194.20,555.200 L194.60,532.560 L194.80,538.996 L195.00,543.311 L195.20,546.210 L195.40,548.166 L195.60,549.494 L195.80,550.408 L196.00,551.048 L196.20,551.509 L196.40,551.854 L196.60,552.124 L196.80,552.345 L197.00,552.534 L197.20,552.702 L197.70,553.097 L198.20,553.345 L198.70,553.515 L199.20,553.581 L199.70,553.535 L200.20,553.393 L200.70,553.188 L201.20,552.962 L201.70,552.756 L202.20,552.605 L202.70,552.526 L203.20,552.515 L203.70,552.555 L204.20,552.615 L204.70,552.660 L205.20,552.661 L205.70,552.605 L206.20,552.492 L206.80,556.000 L207.20,529.680 L207.40,537.049 L207.60,541.977 L207.80,545.275 L208.00,547.484 L208.20,548.969 L208.40,549.974 L208.60,550.662 L208.80,551.142 L209.00,551.487 L209.20,551.745 L209.40,551.947 L209.60,552.113 L209.80,552.257 L210.00,552.384 L210.50,552.684 L211.00,552.869 L211.50,552.986 L212.00,553.014 L212.50,552.954 L213.00,552.824 L213.50,552.658 L214.00,552.501 L214.50,552.391 L215.00,552.356 L215.50,552.408 L216.00,552.535 L216.50,552.708 L217.00,552.888 L217.50,553.031 L218.00,553.104 L218.50,553.088 L218.90,553.014 L219.50,555.600 L219.90,530.960 L220.10,538.049 L220.30,542.779 L220.50,545.934 L220.70,548.039 L220.90,549.445 L221.10,550.388 L221.30,551.026 L221.50,551.465 L221.70,551.775 L221.90,552.003 L222.10,552.179 L222.30,552.323 L222.50,552.448 L223.00,552.751 L223.50,552.928 L224.00,553.050 L224.50,553.082 L225.00,553.010 L225.50,552.841 L226.00,552.605 L226.50,552.351 L227.00,552.130 L227.50,551.992 L228.00,551.966 L228.50,552.061 L229.00,552.258 L229.50,552.517 L230.00,552.785 L230.50,553.006 L231.00,553.137 L231.10,553.150 L231.70,556.800 L232.10,535.120 L232.30,540.953 L232.50,544.827 L232.70,547.389 L232.90,549.074 L233.10,550.173 L233.30,550.882 L233.50,551.335 L233.70,551.621 L233.90,551.801 L234.10,551.917 L234.30,551.996 L234.50,552.056 L234.70,552.110 L235.20,552.296 L235.70,552.467 L236.20,552.679 L236.70,552.880 L237.20,553.020 L237.70,553.063 L238.20,552.996 L238.70,552.831 L239.20,552.604 L239.70,552.367 L240.20,552.175 L240.70,552.076 L241.20,552.101 L241.70,552.252 L242.20,552.505 L242.70,552.816 L243.20,553.125 L243.70,553.375 L244.30,556.000 L244.70,532.000 L244.90,539.063 L245.10,543.765 L245.30,546.881 L245.50,548.929 L245.70,550.260 L245.90,551.109 L246.10,551.634 L246.30,551.945 L246.50,552.115 L246.70,552.194 L246.90,552.217 L247.10,552.207 L247.30,552.182 L247.80,552.159 L248.30,552.123 L248.80,552.180 L249.30,552.299 L249.80,552.437 L250.30,552.548 L250.80,552.595 L251.30,552.562 L251.80,552.450 L252.30,552.285 L252.80,552.108 L253.30,551.964 L253.80,551.897 L254.30,551.936 L254.80,552.088 L255.30,552.339 L255.80,552.655 L256.20,552.923 L256.80,555.600 L257.20,533.280 L257.40,540.002 L257.60,544.515 L257.80,547.538 L258.00,549.555 L258.20,550.892 L258.40,551.768 L258.60,552.331 L258.80,552.679 L259.00,552.883 L259.20,552.986 L259.40,553.023 L259.60,553.015 L259.80,552.978 L260.30,552.871 L260.80,552.694 L261.30,552.581 L261.80,552.537 L262.30,552.550 L262.80,552.597 L263.30,552.647 L263.80,552.672 L264.30,552.652 L264.80,552.579 L265.30,552.460 L265.80,552.315 L266.30,552.171 L266.80,552.056 L267.30,551.996 L267.80,552.005 L268.30,552.083 L268.40,552.107 L269.00,556.000 L269.40,536.720 L269.60,541.971 L269.80,545.517 L270.00,547.914 L270.20,549.539 L270.40,550.644 L270.60,551.397 L270.80,551.910 L271.00,552.259 L271.20,552.496 L271.40,552.653 L271.60,552.755 L271.80,552.816 L272.00,552.849 L272.50,552.884 L273.00,552.808 L273.50,552.728 L274.00,552.664 L274.50,552.629 L275.00,552.629 L275.50,552.662 L276.00,552.719 L276.50,552.786 L277.00,552.851 L277.50,552.900 L278.00,552.925 L278.50,552.923 L279.00,552.895 L279.50,552.847 L280.00,552.787 L280.50,552.723 L281.00,552.662 L281.10,552.650 L281.70,555.200 L282.10,532.320 L282.30,538.981 L282.50,543.442 L282.70,546.431 L282.90,548.433 L283.10,549.773 L283.30,550.670 L283.50,551.270 L283.70,551.671 L283.90,551.939 L284.10,552.117 L284.30,552.235 L284.50,552.313 L284.70,552.364 L285.20,552.465 L285.70,552.453 L286.20,552.441 L286.70,552.430 L287.20,552.422 L287.70,552.420 L288.20,552.428 L288.70,552.447 L289.20,552.481 L289.70,552.531 L290.20,552.595 L290.70,552.672 L291.20,552.754 L291.70,552.835 L292.20,552.905 L292.70,552.954 L293.20,552.976 L293.70,552.966 L294.30,556.800 L294.70,537.120 L294.90,542.272 L295.10,545.710 L295.30,548.001 L295.50,549.523 L295.70,550.529 L295.90,551.192 L296.10,551.625 L296.30,551.905 L296.50,552.084 L296.70,552.197 L296.90,552.268 L297.10,552.312 L297.30,552.340 L297.80,552.413 L298.30,552.428 L298.80,552.467 L299.30,552.520 L299.80,552.577 L300.30,552.629 L300.80,552.670 L301.30,552.699 L301.80,552.718 L302.30,552.733 L302.80,552.748 L303.30,552.770 L303.80,552.800 L304.30,552.836 L304.80,552.873 L305.30,552.901 L305.40,552.904" fill="none" stroke="#000" stroke-width="2.3" stroke-linejoin="round"/>
<rect x="418.85" y="562.40" width="3.10" height="150.90"/>
<rect x="418.85" y="700.00" width="253.35" height="4.20"/>
<rect x="412.20" y="637.10" width="8.20" height="3.80"/>
<rect x="412.20" y="573.80" width="8.20" height="3.80"/>
<rect x="416.00" y="668.75" width="4.40" height="3.80"/>
<rect x="416.00" y="605.45" width="4.40" height="3.80"/>
<rect x="418.85" y="702.10" width="3.30" height="11.20"/>
<rect x="453.95" y="702.10" width="3.30" height="11.20"/>
<rect x="489.05" y="702.10" width="3.30" height="11.20"/>
<rect x="524.15" y="702.10" width="3.30" height="11.20"/>
<rect x="559.25" y="702.10" width="3.30" height="11.20"/>
<rect x="594.35" y="702.10" width="3.30" height="11.20"/>
<rect x="629.45" y="702.10" width="3.30" height="11.20"/>
<rect x="664.55" y="702.10" width="3.30" height="11.20"/>
<rect x="436.40" y="702.10" width="3.30" height="7.10"/>
<rect x="471.50" y="702.10" width="3.30" height="7.10"/>
<rect x="506.60" y="702.10" width="3.30" height="7.10"/>
<rect x="541.70" y="702.10" width="3.30" height="7.10"/>
<rect x="576.80" y="702.10" width="3.30" height="7.10"/>
<rect x="611.90" y="702.10" width="3.30" height="7.10"/>
<rect x="647.00" y="702.10" width="3.30" height="7.10"/>
<text transform="translate(400.96,646.61) scale(0.8456,1)" font-size="19.21" font-weight="normal">1</text>
<text transform="translate(400.98,583.31) scale(0.8456,1)" font-size="19.21" font-weight="normal">2</text>
<text transform="translate(416.21,735.60) scale(0.7694,1)" font-size="20.06" font-weight="normal">0</text>
<text transform="translate(444.90,735.60) scale(0.7694,1)" font-size="20.06" font-weight="normal">0.5</text>
<text transform="translate(486.20,735.60) scale(0.7694,1)" font-size="20.06" font-weight="normal">1</text>
<text transform="translate(514.81,735.60) scale(0.7694,1)" font-size="20.06" font-weight="normal">1.5</text>
<text transform="translate(556.61,735.60) scale(0.7694,1)" font-size="20.06" font-weight="normal">2</text>
<text transform="translate(585.21,735.60) scale(0.7694,1)" font-size="20.06" font-weight="normal">2.5</text>
<text transform="translate(626.85,735.60) scale(0.7694,1)" font-size="20.06" font-weight="normal">3</text>
<text transform="translate(655.50,735.60) scale(0.7694,1)" font-size="20.06" font-weight="normal">3.5</text>
<text transform="translate(488.85,773.50) scale(0.7408,1)" font-size="30.52" font-weight="normal" font-style="normal">Molar Ratio</text>
<text transform="translate(557.45,561.70) scale(1.0279,1)" font-size="18.17" font-weight="bold" font-style="normal">No binding</text>
<text transform="translate(390.00,733.52) rotate(-90) scale(1.2722,1)" font-size="24.27" font-weight="normal" font-style="normal">ΔH (kcal/mol)</text>
<ellipse cx="436.30" cy="693.70" rx="3.3" ry="3.9"/>
<ellipse cx="449.50" cy="692.60" rx="3.3" ry="3.9"/>
<ellipse cx="462.50" cy="694.70" rx="3.3" ry="3.9"/>
<ellipse cx="475.80" cy="693.70" rx="3.3" ry="3.9"/>
<ellipse cx="489.50" cy="695.80" rx="3.3" ry="3.9"/>
<ellipse cx="502.80" cy="694.70" rx="3.3" ry="3.9"/>
<ellipse cx="516.30" cy="693.80" rx="3.3" ry="3.9"/>
<ellipse cx="530.20" cy="694.40" rx="3.3" ry="3.9"/>
<ellipse cx="543.90" cy="693.50" rx="3.3" ry="3.9"/>
<ellipse cx="557.90" cy="694.70" rx="3.3" ry="3.9"/>
<ellipse cx="572.30" cy="695.60" rx="3.3" ry="3.9"/>
<ellipse cx="586.70" cy="694.70" rx="3.3" ry="3.9"/>
<ellipse cx="601.20" cy="696.20" rx="3.3" ry="3.9"/>
<ellipse cx="615.80" cy="697.60" rx="3.3" ry="3.9"/>
<ellipse cx="630.70" cy="693.10" rx="3.3" ry="3.9"/>
<ellipse cx="645.60" cy="693.60" rx="3.3" ry="3.9"/>
<ellipse cx="660.80" cy="696.10" rx="3.3" ry="3.9"/>
</g></svg></body></html>
